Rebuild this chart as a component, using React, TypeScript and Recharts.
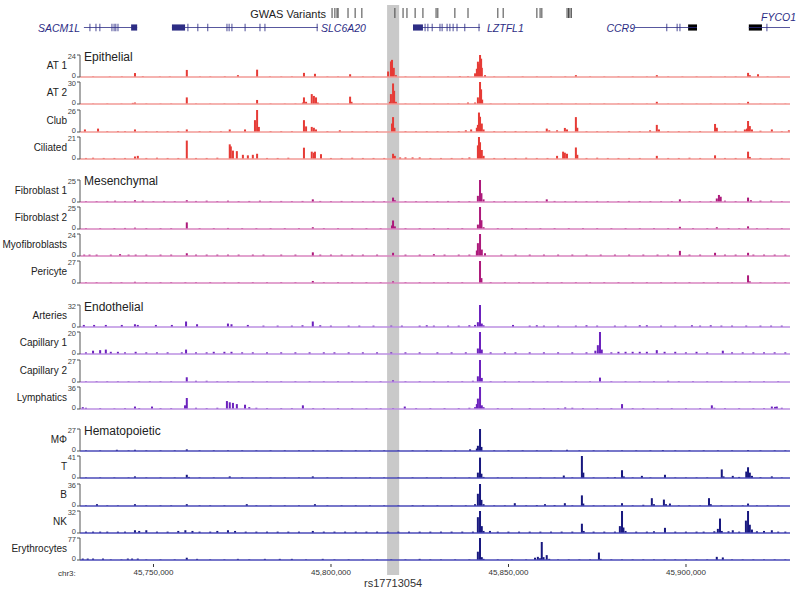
import React from 'react';
import { BarChart, Bar, ComposedChart, Line, XAxis, YAxis, ReferenceLine, ReferenceArea } from 'recharts';

type Peak = [number, number];

// genomic window, in kb on chr3
const X_DOMAIN: [number, number] = [45729.3, 45929.3];
const axisTicks = [45750, 45800, 45850, 45900];

const gwasVariants = [
  45800.3, 45801.1, 45801.7, 45802.0, 45804.8, 45806.8, 45808.7, 45818.0, 45820.3, 45821.4,
  45823.7, 45825.9, 45829.6, 45830.1, 45834.9, 45838.6, 45847.0, 45848.5, 45858.0, 45858.9,
  45859.4, 45866.5, 45866.9, 45867.3, 45867.7,
];
const highlight = { name: 'rs17713054', start: 45815.8, end: 45819.2 };

const genes = [
  { name: 'SACM1L', start: 45730.4, end: 45745.4, block: [45743.7, 45745.4], exons: [45732.1, 45733.8, 45734.9, 45738.3, 45738.9, 45739.4, 45740.0] },
  { name: 'SLC6A20', start: 45755.2, end: 45796.3, block: [45755.2, 45758.9], exons: [45759.7, 45762.5, 45765.3, 45770.7, 45771.3, 45772.1, 45775.8, 45780.0, 45781.4, 45796.1] },
  { name: 'LZTFL1', start: 45823.1, end: 45842.0, block: [45823.1, 45825.9], exons: [45826.5, 45827.3, 45828.5, 45830.7, 45831.3, 45832.7, 45833.5, 45834.4, 45835.5, 45837.7, 45841.7] },
  { name: 'CCR9', start: 45885.6, end: 45903.1, block: [45900.6, 45903.1], exons: [45894.6, 45897.5, 45898.3] },
  { name: 'FYCO1', start: 45917.7, end: 45929.3, block: [45917.7, 45921.4], exons: [45922.8] },
];

// ---- Epithelial ----
const at1: Peak[] = [
  [45733.0, 0.6], [45737.7, 0.5], [45741.1, 0.6], [45744.8, 4.3], [45747.0, 0.8], [45751.8, 0.5], [45754.6, 0.6],
  [45759.4, 7.7], [45763.1, 0.5], [45766.0, 0.6], [45770.1, 0.7], [45773.8, 2], [45779.2, 8], [45782.8, 0.6],
  [45786.0, 0.5], [45789.0, 0.6], [45792.4, 4.5], [45795.5, 3.5], [45799.0, 0.6], [45802.0, 0.6], [45805.4, 3],
  [45809.0, 0.6], [45812.0, 0.5], [45816.1, 6], [45816.9, 17], [45817.2, 18.7], [45817.7, 10], [45818.3, 2],
  [45821.0, 0.6], [45825.0, 0.6], [45829.0, 0.5], [45833.0, 0.6], [45836.3, 1], [45838.6, 0.8], [45840.6, 4],
  [45841.1, 9], [45841.4, 16.7], [45841.7, 14], [45842.0, 24], [45842.3, 20], [45842.5, 10], [45843.4, 2],
  [45846.0, 0.6], [45850.0, 0.5], [45854.0, 0.6], [45858.0, 0.6], [45862.0, 0.5], [45866.0, 0.6], [45869.0, 2],
  [45873.0, 0.6], [45877.0, 0.5], [45881.0, 0.6], [45885.0, 0.6], [45889.0, 0.5], [45891.8, 2], [45895.0, 0.6],
  [45899.0, 0.5], [45903.0, 0.6], [45907.0, 0.5], [45911.0, 0.6], [45914.0, 0.6], [45917.5, 4.5], [45918.0, 2],
  [45920.3, 3], [45923.0, 0.6], [45926.0, 0.5],
];
const at2: Peak[] = [
  [45733.0, 0.5], [45737.0, 0.6], [45741.0, 0.5], [45744.2, 1.5], [45744.8, 2], [45748.0, 0.6], [45752.0, 0.5],
  [45755.0, 0.6], [45759.4, 9], [45762.0, 0.6], [45766.0, 0.5], [45770.0, 0.6], [45774.0, 0.5], [45779.2, 5.5],
  [45783.0, 0.6], [45787.0, 0.5], [45790.0, 0.6], [45792.1, 2], [45792.4, 9], [45793.0, 3], [45794.6, 13.5],
  [45795.2, 11], [45795.8, 9], [45796.3, 2], [45799.0, 0.6], [45802.0, 0.5], [45805.4, 10], [45805.8, 3],
  [45809.0, 0.6], [45813.0, 0.5], [45816.6, 3], [45816.9, 13.5], [45817.5, 28], [45817.8, 18], [45818.3, 3],
  [45821.0, 0.6], [45825.0, 0.5], [45829.0, 0.6], [45833.0, 0.5], [45836.0, 0.6], [45838.6, 2], [45840.6, 2],
  [45841.4, 9], [45842.0, 30], [45842.3, 20], [45842.6, 6], [45845.0, 0.6], [45849.0, 0.5], [45853.0, 0.6],
  [45857.0, 0.5], [45861.0, 0.6], [45865.0, 0.5], [45869.0, 0.6], [45873.0, 0.5], [45877.0, 0.6], [45881.0, 0.5],
  [45885.0, 0.6], [45889.0, 0.5], [45891.8, 3], [45895.0, 0.5], [45899.0, 0.6], [45903.0, 0.5], [45907.0, 0.6],
  [45911.0, 0.5], [45915.0, 0.6], [45917.5, 3], [45921.0, 0.5], [45925.0, 0.6], [45928.0, 0.5],
];
const club: Peak[] = [
  [45730.7, 3], [45734.4, 4], [45737.0, 1], [45740.0, 1.2], [45742.0, 1], [45744.8, 3], [45748.0, 1], [45751.0, 1],
  [45754.0, 1], [45757.0, 1.2], [45759.4, 3], [45763.0, 1], [45766.0, 1], [45769.0, 1], [45771.5, 3], [45775.8, 3],
  [45778.6, 14], [45779.2, 26], [45779.7, 6], [45783.0, 1], [45786.0, 1], [45789.0, 1], [45792.4, 14], [45793.0, 6.6],
  [45794.6, 6], [45795.2, 5], [45795.8, 3], [45799.0, 1], [45802.5, 2], [45806.0, 1], [45810.0, 1], [45813.0, 1],
  [45817.2, 10], [45817.5, 17.6], [45817.9, 5], [45821.0, 1], [45824.0, 1], [45827.0, 1], [45830.0, 1], [45833.0, 1],
  [45836.0, 1], [45838.0, 2], [45839.5, 3], [45841.1, 5], [45841.4, 8.4], [45841.7, 23], [45842.0, 18], [45842.5, 10],
  [45843.0, 3], [45846.0, 1], [45849.0, 1], [45852.0, 1.2], [45855.0, 1], [45858.0, 1], [45860.8, 4], [45861.5, 2],
  [45863.7, 2], [45865.9, 4.8], [45866.5, 3], [45869.0, 17.6], [45869.4, 5], [45872.0, 1], [45875.0, 1], [45878.0, 1],
  [45881.0, 1], [45884.0, 1.2], [45887.0, 1], [45889.9, 2], [45891.8, 8.4], [45892.4, 3], [45895.0, 1], [45898.0, 1],
  [45901.0, 1], [45904.0, 1.2], [45908.2, 9.5], [45908.7, 5], [45911.0, 1], [45914.0, 1.5], [45916.6, 3], [45917.2, 4],
  [45917.5, 13], [45918.0, 7], [45918.6, 3], [45921.0, 1.5], [45924.2, 3], [45927.0, 1], [45929.0, 2],
];
const ciliated: Peak[] = [
  [45731.0, 1], [45733.0, 1.2], [45736.0, 1], [45739.0, 1], [45742.0, 1], [45744.8, 2.4], [45745.6, 3], [45748.0, 1],
  [45751.0, 1.2], [45754.0, 1], [45757.0, 1], [45759.4, 17.6], [45762.0, 1], [45765.0, 1], [45768.0, 1.2],
  [45771.5, 14], [45771.8, 12], [45772.4, 8], [45773.5, 7.5], [45775.2, 4], [45776.6, 3.5], [45778.0, 4], [45779.2, 5],
  [45782.0, 1], [45785.0, 1], [45788.0, 1.2], [45792.4, 10.8], [45794.6, 7], [45795.2, 6], [45795.5, 7], [45797.2, 4.6],
  [45800.0, 1], [45803.0, 1], [45806.0, 1.2], [45809.0, 1], [45812.0, 1], [45815.0, 1], [45817.5, 5], [45818.0, 3],
  [45819.5, 1.5], [45821.0, 1.5], [45823.0, 1.5], [45825.0, 1.5], [45828.0, 1], [45831.0, 1], [45834.0, 1],
  [45837.0, 1], [45839.0, 1.5], [45841.4, 13], [45841.7, 21], [45842.0, 16], [45842.5, 8.6], [45843.0, 3],
  [45846.0, 1], [45849.0, 1], [45852.0, 1], [45855.0, 1.2], [45858.0, 1], [45861.0, 1], [45863.7, 3], [45865.4, 7],
  [45865.9, 6], [45866.5, 5], [45869.0, 11], [45869.4, 4], [45872.0, 1], [45875.0, 1.2], [45878.0, 1], [45881.0, 1],
  [45884.0, 1], [45887.0, 1], [45891.8, 3], [45895.0, 1], [45898.0, 1], [45901.0, 1.2], [45904.0, 1], [45908.2, 3.5],
  [45911.0, 1], [45914.0, 1], [45917.5, 7], [45918.0, 2], [45921.0, 1], [45924.0, 1], [45927.0, 1],
];

// ---- Mesenchymal ----
const fibroblast1: Peak[] = [
  [45731, 1], [45734, 1], [45737, 1.2], [45739.2, 1.5], [45742, 1], [45744.8, 2], [45747, 1.5], [45750, 1], [45753, 1.2],
  [45756, 1], [45759.4, 2], [45762, 1.2], [45765, 1.5], [45768, 1], [45771, 1.5], [45774, 1], [45777, 1.2], [45780, 1.5],
  [45783, 1], [45786, 1.2], [45789, 1], [45792, 1.2], [45794.9, 3], [45797, 1.2], [45800, 1], [45803, 1.2], [45806, 1],
  [45809, 1], [45812, 1.2], [45815, 1], [45817.5, 5], [45818, 2], [45821, 1], [45824, 1], [45827, 1], [45830, 1],
  [45833, 1.2], [45836, 1], [45839, 1], [45841.4, 7], [45842.0, 25], [45842.4, 10], [45843, 3], [45846, 1], [45849, 1],
  [45852, 1], [45855, 1], [45858, 1], [45860.8, 3], [45863, 1.2], [45866, 1], [45869, 1.2], [45872, 1], [45875, 1.2],
  [45878, 1], [45881, 1], [45884, 1.2], [45887, 1], [45890, 1], [45893, 1], [45896, 1], [45898.3, 3], [45901, 1],
  [45904, 1], [45907, 1], [45908.7, 4], [45909.3, 8], [45909.8, 6], [45911, 1.5], [45914, 1], [45917.5, 5], [45918.3, 2],
  [45921, 1.5], [45924, 1.5], [45927, 1],
];
const fibroblast2: Peak[] = [
  [45731, 1], [45735, 1], [45739, 1], [45742, 1.2], [45744.8, 1.5], [45748, 1], [45752, 1], [45755, 1], [45759.4, 7.5],
  [45763, 1], [45767, 1], [45771, 1.2], [45775, 1], [45779, 1], [45783, 1], [45787, 1], [45791, 1], [45794.9, 2],
  [45798, 1], [45802, 1], [45806, 1], [45810, 1], [45814, 1], [45817.2, 4], [45817.5, 9.7], [45818, 3], [45821, 1],
  [45825, 1], [45829, 1], [45833, 1], [45837, 1], [45841.4, 5], [45842.0, 25], [45842.4, 10], [45843, 2], [45847, 1],
  [45851, 1], [45855, 1], [45859, 1], [45863, 1], [45867, 1], [45871, 1], [45875, 1], [45879, 1], [45883, 1], [45887, 1],
  [45891, 1], [45895, 1], [45898.3, 2.5], [45902, 1], [45906, 1], [45908.7, 2], [45912, 1], [45915, 1], [45917.5, 3],
  [45920, 1], [45923, 1], [45927, 1],
];
const myofibroblasts: Peak[] = [
  [45730.5, 1.5], [45732, 1.5], [45734, 1.5], [45738, 1.5], [45740.6, 2], [45743, 1.5], [45745, 1.5], [45748, 1.5],
  [45752, 1.5], [45755, 1.5], [45759.4, 3], [45762, 1.5], [45765, 1.5], [45768, 1.5], [45771, 1.5], [45774, 1.5],
  [45778, 1.5], [45781, 1.5], [45786, 1.5], [45790, 1.5], [45794.9, 4], [45797, 1.5], [45800, 1.5], [45803, 1.5],
  [45806, 1.5], [45809, 1.5], [45813, 1.5], [45817.5, 3.5], [45821, 1.5], [45825, 1.5], [45829, 2], [45832, 1.5],
  [45836, 1.5], [45839, 1.5], [45841.1, 6], [45841.4, 14], [45842.0, 24], [45842.5, 7], [45843.4, 3], [45848, 1.5],
  [45852, 1.5], [45856, 1.5], [45860, 1.5], [45864, 1.5], [45868, 1.5], [45872, 1.5], [45876, 1.5], [45880, 1.5],
  [45884, 1.5], [45888, 1.5], [45892, 1.5], [45895, 1.5], [45898.3, 5.6], [45901, 1.5], [45904, 1.5], [45908.2, 3.5],
  [45911, 1.5], [45914, 1.5], [45917.5, 3.5], [45919, 1.5], [45922, 1.5], [45925, 1.5], [45928, 1.5],
];
const pericyte: Peak[] = [
  [45731, 1], [45734, 1], [45738, 1], [45741, 1], [45744.8, 1.5], [45748, 1], [45752, 1], [45755, 1], [45759, 1],
  [45762, 1], [45766, 1], [45770, 1], [45774, 1], [45778, 1], [45782, 1], [45786, 1], [45790, 1], [45794.9, 2.5],
  [45798, 1], [45802, 1], [45806, 1], [45810, 1], [45814, 1], [45817.5, 2], [45821, 1], [45825, 1], [45829, 1],
  [45833, 1], [45837, 1], [45842.0, 27], [45842.4, 6], [45845, 1], [45849, 1], [45853, 1], [45857, 1], [45861, 1],
  [45865, 1], [45869, 1], [45873, 1], [45877, 1], [45881, 1], [45885, 1], [45889, 1], [45893, 1], [45897, 1],
  [45901, 1], [45905, 1], [45909, 1], [45913, 1], [45917.5, 9.4], [45918, 2], [45921, 1], [45925, 1], [45928, 1],
];

// ---- Endothelial ----
const arteries: Peak[] = [
  [45730.4, 3], [45733.3, 3], [45736.6, 3], [45741.1, 3], [45744.8, 4], [45745.6, 3], [45750.7, 3], [45755.2, 3],
  [45759.2, 8], [45762.3, 4], [45771.0, 5], [45772.0, 4], [45776.6, 3], [45781, 2], [45785, 2], [45789, 2], [45792, 2.5],
  [45794.9, 8], [45797, 2.5], [45800, 2], [45805, 2], [45808, 2], [45812, 2], [45817, 2], [45820, 2], [45825, 2],
  [45827, 2.5], [45829, 2], [45833, 2], [45836, 2], [45839, 2.5], [45840.6, 3], [45841.4, 7], [45842.0, 32],
  [45842.5, 5], [45843, 2.5], [45851.3, 3], [45856, 2], [45858, 2.5], [45860, 2], [45864, 2], [45869, 2], [45872, 2.5],
  [45875, 2], [45880, 2], [45883, 2], [45887, 2.5], [45889, 2.5], [45893, 2], [45897, 2], [45901.7, 2.5], [45904, 2],
  [45907, 2.5], [45910, 2], [45913, 2], [45917, 2], [45921, 2], [45924, 2], [45927, 2],
];
const capillary1: Peak[] = [
  [45731, 1.5], [45733, 3], [45735, 3.5], [45736.6, 4], [45738, 2], [45740, 2], [45742, 1.5], [45745, 2], [45748, 1.5],
  [45751, 1.5], [45754, 1.5], [45758, 1.5], [45759.2, 4], [45762, 1.5], [45765, 1.5], [45767, 2], [45770, 2], [45772, 2],
  [45775, 1.5], [45778, 1.5], [45782, 1.5], [45786, 1.5], [45790, 1.5], [45794, 1.5], [45798, 1.5], [45801, 1.5],
  [45805, 1.5], [45809, 1.5], [45813, 1.5], [45817, 1.5], [45821, 1.5], [45825, 1.5], [45830, 1.5], [45834, 1.5],
  [45838, 1.5], [45841.4, 5], [45842.0, 20], [45842.5, 4], [45845, 1.5], [45849, 1.5], [45852, 1.5], [45856, 1.5],
  [45860, 1.5], [45864, 1.5], [45868, 1.5], [45872, 1.5], [45874.5, 3], [45875.2, 8], [45875.8, 20], [45876.3, 4],
  [45879, 1.5], [45881, 2], [45883, 2], [45885, 2], [45887, 2], [45889, 2], [45891.8, 3.5], [45894, 2], [45897, 2],
  [45900, 1.5], [45903, 2], [45906, 1.5], [45910.4, 3], [45913, 1.5], [45916, 1.5], [45919, 1.5], [45922, 1.5],
  [45925, 1.5], [45928, 1.5],
];
const capillary2: Peak[] = [
  [45731, 1], [45734, 1], [45737, 1], [45740, 1], [45743, 1], [45746, 1], [45749, 1], [45752, 1], [45755, 1],
  [45759.4, 5.8], [45762, 1.5], [45765, 1.5], [45768, 1], [45771, 1], [45774, 1], [45778, 1], [45782, 1], [45786, 1],
  [45790, 1], [45794, 1], [45798, 1], [45802, 1], [45806, 1], [45810, 1], [45814, 1], [45817.5, 2], [45821, 1],
  [45825, 1], [45829, 1], [45833, 1], [45837, 1], [45840, 1.5], [45841.4, 7], [45842.0, 27], [45842.5, 5], [45845, 1],
  [45849, 1], [45853, 1], [45857, 1], [45861, 1], [45865, 1], [45869, 1], [45873, 1], [45875.8, 5.4], [45879, 1],
  [45883, 1], [45887, 1], [45891, 1], [45895, 1.5], [45898, 1], [45902, 1], [45906, 1], [45910, 1], [45914, 1],
  [45918, 1], [45922, 1], [45926, 1],
];
const lymphatics: Peak[] = [
  [45730.1, 3], [45731, 2], [45735, 1.5], [45739, 1], [45742, 1.5], [45744.8, 4], [45746, 1.5], [45749.6, 4], [45752, 1.5],
  [45755, 1.5], [45758.9, 6], [45759.4, 18], [45762, 2], [45765, 1.5], [45768, 2], [45770.7, 13], [45771.5, 11],
  [45772.4, 10], [45773.5, 8], [45775.8, 7], [45777, 3], [45779, 2], [45782, 1.5], [45786, 1.5], [45789, 1.5],
  [45792.1, 6], [45795, 1.5], [45798, 1.5], [45802, 1.5], [45806, 1.5], [45810, 1.5], [45814, 1.5], [45817.5, 1.5],
  [45820.8, 4], [45824, 1.5], [45828, 1.5], [45832, 1.5], [45836, 1.5], [45839, 2], [45840.6, 3], [45841.1, 8],
  [45841.4, 17], [45842.0, 36], [45842.5, 6], [45843, 3], [45847, 1.5], [45851, 1.5], [45856, 1.5], [45860, 1.5],
  [45864, 1.5], [45866, 2.5], [45868, 2], [45871, 1.5], [45875, 1.5], [45879, 1.5], [45882.0, 8], [45885, 1.5],
  [45888, 1.5], [45892, 1.5], [45896, 1.5], [45900, 1.5], [45904, 1.5], [45907.3, 6], [45908, 2], [45911, 1.5],
  [45915, 1.5], [45919, 1.5], [45922, 1.5], [45924.2, 4], [45925.1, 3.5], [45925.6, 4], [45927, 2],
];

// ---- Hematopoietic ----
const macrophage: Peak[] = [
  [45731, 0.8], [45735, 0.8], [45739.7, 1.5], [45743, 0.8], [45744.8, 1.5], [45748, 0.8], [45752, 0.8], [45756, 0.8],
  [45759.4, 2], [45763, 0.8], [45767, 0.8], [45771, 0.8], [45775, 0.8], [45779, 0.8], [45783, 0.8], [45787, 0.8],
  [45791, 0.8], [45795, 1], [45799, 0.8], [45803, 0.8], [45807, 0.8], [45811, 0.8], [45815, 0.8], [45819, 0.8],
  [45823, 0.8], [45827, 0.8], [45831, 0.8], [45835, 0.8], [45839.2, 2], [45841.1, 3], [45841.4, 6.4], [45842.0, 27],
  [45842.4, 5], [45846, 0.8], [45850, 0.8], [45854, 0.8], [45858, 0.8], [45862, 0.8], [45866.5, 1.5], [45870, 0.8],
  [45874, 0.8], [45878, 0.8], [45882, 0.8], [45886, 0.8], [45890, 0.8], [45893.5, 1.2], [45897, 0.8], [45901, 0.8],
  [45905, 0.8], [45909, 0.8], [45913, 0.8], [45917.5, 1.2], [45921, 0.8], [45925, 0.8], [45928, 0.8],
];
const tCells: Peak[] = [
  [45731, 1], [45735, 1], [45739, 1], [45743, 1], [45744.8, 3], [45748, 1], [45752, 1], [45756, 1], [45759.4, 6],
  [45760, 2], [45763, 1], [45767, 1], [45771.5, 3], [45775, 1], [45779, 1], [45783, 1], [45787, 1], [45791, 1],
  [45794.9, 3], [45799, 1], [45803, 1], [45807, 1], [45811, 1], [45815, 1], [45819, 1], [45823, 1], [45827, 1],
  [45831, 1], [45835, 1], [45839, 1], [45841.4, 10], [45842.0, 38], [45842.4, 8], [45843, 2], [45847, 1], [45851, 1],
  [45855, 1], [45859, 1], [45863, 1], [45865.6, 4.6], [45868, 1], [45870.7, 41], [45871.1, 10], [45874, 1], [45878, 1],
  [45880, 1.5], [45882.0, 14.5], [45882.5, 3], [45885, 1], [45887.6, 4], [45890, 1], [45894.1, 6], [45897, 1],
  [45900, 1], [45903, 1], [45906, 1], [45910.1, 16], [45910.6, 3], [45913.2, 4], [45915, 2], [45917.0, 12],
  [45917.5, 20], [45918.0, 10], [45918.6, 4], [45921, 1.5], [45924.2, 3], [45927, 1],
];
const bCells: Peak[] = [
  [45731, 1], [45734.1, 3], [45737, 1], [45740, 1], [45744.8, 3], [45748, 1], [45752, 1], [45755, 1], [45759.4, 3],
  [45763, 1], [45766, 1], [45770, 1], [45776.3, 3], [45779, 1], [45783, 1], [45787, 1], [45791, 1], [45795.5, 3],
  [45799, 1], [45803, 1], [45807, 1], [45811, 1], [45815, 1], [45819, 1], [45823, 1.2], [45826, 1], [45830, 1],
  [45834, 1.2], [45838, 1], [45840.6, 3], [45841.4, 20], [45842.0, 36], [45842.4, 10], [45843, 3], [45846, 1],
  [45849, 1], [45851.8, 4.6], [45855, 1], [45858, 1.5], [45860.3, 3], [45863, 1.5], [45865.9, 4.6], [45868, 1],
  [45870.7, 17.4], [45871.1, 4], [45874, 1], [45877, 1], [45880, 1], [45882.0, 4.6], [45885, 1], [45888, 2],
  [45890.4, 12.8], [45891, 3], [45893.8, 10.5], [45894.4, 3], [45895.5, 4], [45898, 1], [45901, 1], [45904, 1],
  [45906.5, 12.8], [45907, 3], [45910, 1], [45913, 1], [45916, 1], [45917.5, 4], [45920, 1], [45923, 1], [45926, 1],
];
const nkCells: Peak[] = [
  [45731, 2], [45733, 2], [45735, 2], [45737, 2], [45740, 2], [45742, 2], [45744.8, 4], [45746, 3], [45748, 4],
  [45751, 2], [45754, 2], [45757, 3], [45759, 4], [45761, 3], [45763, 2], [45766, 2], [45768, 3], [45771, 4], [45773, 3],
  [45776, 2], [45779, 2], [45782, 2], [45785, 2], [45788, 2], [45791, 2], [45794.9, 3], [45798, 2], [45801, 2],
  [45804, 2], [45807, 2], [45810, 2], [45813, 2], [45816, 2], [45819, 2], [45822, 2], [45825, 2], [45828, 2], [45831, 2],
  [45834, 2], [45837, 2], [45840, 2], [45841.4, 23], [45842.0, 32], [45842.5, 10], [45843, 3], [45844.8, 3], [45847, 2],
  [45850, 2], [45853, 2], [45856, 2], [45859, 2], [45862, 2], [45865, 2], [45868, 2], [45870.7, 13.5], [45871.2, 3],
  [45874, 2], [45877, 2], [45880, 2], [45881.4, 10], [45882.0, 32], [45882.4, 8], [45883, 3], [45886, 2], [45889, 2],
  [45891, 2.5], [45894.1, 7.5], [45897, 2], [45900, 2], [45903, 2], [45905, 2], [45908, 2.5], [45909, 6], [45909.6, 21],
  [45910.1, 3], [45912, 2.5], [45913.2, 4], [45915, 2], [45916.9, 18], [45917.5, 32], [45918.0, 12], [45918.6, 5],
  [45920, 2.5], [45922, 3], [45924.2, 4], [45926, 2], [45928, 2],
];
const erythrocytes: Peak[] = [
  [45730.1, 5], [45731.5, 5], [45733, 5], [45735.8, 5], [45738, 2], [45741, 2], [45742.8, 5], [45744, 5], [45745.6, 5],
  [45748, 2], [45752, 2], [45756, 2], [45759.4, 8], [45762.3, 4], [45766, 2], [45770, 2], [45773.8, 4], [45777, 2],
  [45781.4, 4], [45785.6, 4], [45789, 4], [45793, 2], [45797.7, 4], [45801, 2], [45805, 2], [45809, 2], [45813, 2],
  [45817, 2], [45821, 2], [45825, 4], [45828, 2], [45831, 2], [45835, 2], [45839, 2], [45841.4, 29], [45842.0, 77],
  [45842.5, 10], [45843, 4], [45847, 2], [45851, 2], [45855, 2], [45857.5, 8], [45858.3, 11], [45858.9, 6],
  [45859.4, 63], [45859.9, 10], [45860.8, 17], [45861.5, 4], [45864, 2], [45867, 2], [45870, 2], [45873, 2],
  [45875.5, 26], [45876, 4], [45879, 2], [45882, 2], [45885, 2], [45888, 2], [45891, 2], [45894, 2], [45897, 2],
  [45900, 2], [45903, 2], [45906, 2], [45908.7, 11], [45910.4, 9], [45913, 2], [45916, 2], [45919, 2], [45922, 2],
  [45925, 2], [45928, 2],
];

const groups = [
  { title: 'Epithelial', top: 55, fill: '#e63b36', base: '#f29a96',
    names: ['AT 1', 'AT 2', 'Club', 'Ciliated'], maxima: [24, 30, 26, 21], series: [at1, at2, club, ciliated] },
  { title: 'Mesenchymal', top: 179.5, fill: '#ad1a7b', base: '#d884bf',
    names: ['Fibroblast 1', 'Fibroblast 2', 'Myofibroblasts', 'Pericyte'], maxima: [25, 25, 24, 27],
    series: [fibroblast1, fibroblast2, myofibroblasts, pericyte] },
  { title: 'Endothelial', top: 305, fill: '#6c22bd', base: '#bb8fe2',
    names: ['Arteries', 'Capillary 1', 'Capillary 2', 'Lymphatics'], maxima: [32, 20, 27, 36],
    series: [arteries, capillary1, capillary2, lymphatics] },
  { title: 'Hematopoietic', top: 429, fill: '#18187f', base: '#4a4ab8',
    names: ['MΦ', 'T', 'B', 'NK', 'Erythrocytes'], maxima: [27, 41, 36, 32, 77],
    series: [macrophage, tCells, bCells, nkCells, erythrocytes] },
];

const W = 800;
const PLOT_LEFT = 80;
const RIGHT = 10;
const PITCH = 27.3;
const TRACK_H = 22;
const PAD = 6;
const GENE_COLOR = '#2d2d85';

// fixed-width spike, centred on the bar slot that recharts computes
const Spike = (props: any) => {
  const { x, y, width, height, fill } = props;
  if (!height || height <= 0) return null;
  return <rect x={x + width / 2 - 1} y={y} width={2} height={height} fill={fill} />;
};

// scale labels: "0" nudged up, the maximum nudged down, as in the browser tracks
const ScaleTick = (props: any) => {
  const { x, y, payload } = props;
  const dy = payload.value === 0 ? -1.5 : 1;
  return (
    <text x={x} y={y + dy} dy="0.35em" textAnchor="end" fontSize={7.5} fill="#444">
      {payload.value}
    </text>
  );
};

const Track = ({ data, max, fill, base, top }: { data: Peak[]; max: number; fill: string; base: string; top: number }) => {
  const rows = data.map(([pos, v]) => ({ pos, v }));
  return (
    <div style={{ position: 'absolute', left: 0, top: top - PAD }}>
      <BarChart width={W} height={TRACK_H + PAD * 2} data={rows} margin={{ top: PAD, right: RIGHT, bottom: PAD, left: 0 }}>
        <XAxis dataKey="pos" type="number" domain={X_DOMAIN} hide allowDataOverflow />
        <YAxis
          domain={[0, max]}
          ticks={[0, max]}
          interval={0}
          width={PLOT_LEFT}
          tickSize={3}
          tickMargin={1}
          tick={<ScaleTick />}
          axisLine={{ stroke: '#555' }}
          tickLine={{ stroke: '#555' }}
          allowDataOverflow
        />
        <ReferenceLine y={0} stroke={base} strokeWidth={1.5} />
        <Bar dataKey="v" fill={fill} barSize={2} shape={<Spike />} isAnimationActive={false} />
      </BarChart>
    </div>
  );
};

// an invisible series so the reference marks get scales to draw on
const Anchor = () => <Line dataKey="y" stroke="none" dot={false} activeDot={false} legendType="none" isAnimationActive={false} />;

const text = (s: React.CSSProperties): React.CSSProperties => ({
  position: 'absolute', whiteSpace: 'nowrap', transform: 'translateY(-50%)', lineHeight: 1, ...s,
});

export default function App() {
  const variantRows = gwasVariants.map((pos) => ({ pos, y: 0 }));
  const geneRows = genes.map((g) => ({ pos: g.start, y: 0 }));
  return (
    <div style={{ position: 'relative', width: W, height: 595, background: '#fff', fontFamily: '"Liberation Sans", Arial, sans-serif', color: '#222', overflow: 'hidden' }}>
      <style>{'body{margin:0}'}</style>

      {/* rs17713054 highlight band */}
      <div style={{ position: 'absolute', left: 0, top: 5 }}>
        <ComposedChart width={W} height={590} data={variantRows} margin={{ top: 0, right: RIGHT, bottom: 20, left: PLOT_LEFT }}>
          <XAxis dataKey="pos" type="number" domain={X_DOMAIN} hide allowDataOverflow />
          <YAxis type="number" domain={[0, 1]} hide />
          {Anchor()}
          <ReferenceArea
            x1={highlight.start}
            x2={highlight.end}
            y1={0}
            y2={1}
            fill="#c9c9c9"
            fillOpacity={1}
            stroke="none"
            label={{ value: highlight.name, position: 'bottom', fontSize: 11, fill: '#333', offset: 4 }}
          />
        </ComposedChart>
      </div>

      {/* GWAS variants */}
      <div style={text({ right: W - 326, top: 14, fontSize: 11 })}>GWAS Variants</div>
      <div style={{ position: 'absolute', left: 0, top: 8 }}>
        <ComposedChart width={W} height={10} data={variantRows} margin={{ top: 0, right: RIGHT, bottom: 0, left: PLOT_LEFT }}>
          <XAxis dataKey="pos" type="number" domain={X_DOMAIN} hide allowDataOverflow />
          <YAxis type="number" domain={[0, 1]} hide />
          {Anchor()}
          {gwasVariants.map((v) => (
            <ReferenceLine key={v} x={v} stroke="#444" strokeWidth={1} />
          ))}
        </ComposedChart>
      </div>

      {/* gene models */}
      <div style={{ position: 'absolute', left: 0, top: 22 }}>
        <ComposedChart width={W} height={11} data={geneRows} margin={{ top: 0, right: RIGHT, bottom: 0, left: PLOT_LEFT }}>
          <XAxis dataKey="pos" type="number" domain={X_DOMAIN} hide allowDataOverflow />
          <YAxis type="number" domain={[0, 1]} hide />
          {Anchor()}
          {genes.map((g) => (
            <ReferenceLine key={g.name} segment={[{ x: g.start, y: 0.5 }, { x: g.end, y: 0.5 }]} stroke={GENE_COLOR} strokeWidth={0.8} />
          ))}
          {genes.flatMap((g) =>
            g.exons.map((e) => (
              <ReferenceArea key={g.name + e} x1={e - 0.12} x2={e + 0.12} y1={0.15} y2={0.85} fill={GENE_COLOR} fillOpacity={1} stroke="none" />
            ))
          )}
          {genes.map((g, i) => (
            <ReferenceArea key={g.name + 'b'} x1={g.block[0]} x2={g.block[1]} y1={0.22} y2={0.78} fill={i >= 3 ? '#000' : GENE_COLOR} fillOpacity={1} stroke="none" />
          ))}
        </ComposedChart>
      </div>
      <div style={text({ right: W - 80, top: 28, fontSize: 10.5, fontStyle: 'italic', color: GENE_COLOR })}>SACM1L</div>
      <div style={text({ left: 321, top: 28, fontSize: 10.5, fontStyle: 'italic', color: GENE_COLOR })}>SLC6A20</div>
      <div style={text({ left: 487, top: 28, fontSize: 10.5, fontStyle: 'italic', color: GENE_COLOR })}>LZTFL1</div>
      <div style={text({ right: W - 635, top: 28, fontSize: 10.5, fontStyle: 'italic', color: GENE_COLOR })}>CCR9</div>
      <div style={text({ left: 761, top: 17, fontSize: 10.5, fontStyle: 'italic', color: GENE_COLOR })}>FYCO1</div>

      {/* signal tracks */}
      {groups.map((g) => (
        <React.Fragment key={g.title}>
          {g.series.map((s, i) => (
            <Track key={g.names[i]} data={s} max={g.maxima[i]} fill={g.fill} base={g.base} top={g.top + i * PITCH} />
          ))}
          <div style={text({ left: 84, top: g.top + 1.5, fontSize: 12 })}>{g.title}</div>
          {g.names.map((n, i) => (
            <div key={n} style={text({ right: W - 67, top: g.top + i * PITCH + TRACK_H / 2, fontSize: 10 })}>{n}</div>
          ))}
        </React.Fragment>
      ))}

      {/* coordinate axis */}
      <div style={text({ left: 58, top: 574, fontSize: 8, color: '#333' })}>chr3:</div>
      <div style={{ position: 'absolute', left: 0, top: 560 }}>
        <ComposedChart width={W} height={24} data={axisTicks.map((pos) => ({ pos, y: 0 }))} margin={{ top: 0, right: RIGHT, bottom: 0, left: PLOT_LEFT }}>
          <XAxis
            dataKey="pos"
            type="number"
            domain={X_DOMAIN}
            ticks={axisTicks}
            interval={0}
            height={20}
            axisLine={false}
            tickSize={3}
            tickLine={{ stroke: '#333' }}
            tick={{ fontSize: 8, fill: '#333' }}
            tickFormatter={(v: number) => (v * 1000).toLocaleString('en-US')}
          />
          <YAxis type="number" domain={[0, 1]} hide />
          {Anchor()}
        </ComposedChart>
      </div>
    </div>
  );
}
